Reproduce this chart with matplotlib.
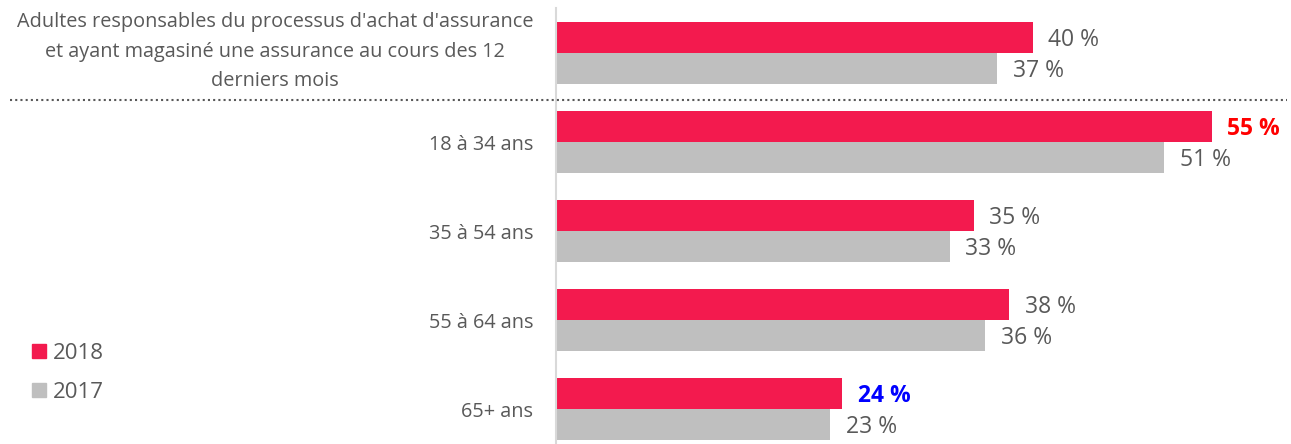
import matplotlib
matplotlib.use("Agg")
import matplotlib.pyplot as plt
from matplotlib.lines import Line2D
from matplotlib.patches import Patch

categories = [
    "Adultes responsables du processus d'achat d'assurance\net ayant magasiné une assurance au cours des 12\nderniers mois",
    "18 à 34 ans",
    "35 à 54 ans",
    "55 à 64 ans",
    "65+ ans",
]
values_2018 = [40, 55, 35, 38, 24]
values_2017 = [37, 51, 33, 36, 23]
series_labels = ["2018", "2017"]

RED = "#F31A4E"
GREY = "#BFBFBF"
TEXT = "#595959"
plt.rcParams['font.family'] = ['Open Sans', 'DejaVu Sans']

W, H = 1291, 444
fig = plt.figure(figsize=(W / 100, H / 100), dpi=100)
ax_left = 556 / W
ax_top = 1 - 8 / H
ax = fig.add_axes([ax_left, 0, 1 - ax_left, ax_top])

y = list(range(len(categories)))
h = 0.35
ax.barh([v - h / 2 for v in y], values_2018, height=h, color=RED)
ax.barh([v + h / 2 for v in y], values_2017, height=h, color=GREY)

px_per_unit = 89.0
ax.set_ylim(-0.506 + (H - 8) / px_per_unit, -0.506)
ax.set_xlim(0, (W - 556) / 11.93)

ax.set_yticks(y)
ax.set_yticklabels([""] + categories[1:], fontsize=14.3, color=TEXT)
ax.tick_params(axis='y', length=0, pad=16.5)
ax.annotate(categories[0], (0, y[0]), xytext=(-16.5, 0.8), textcoords='offset points',
            ha='right', va='center', multialignment='center', linespacing=1.63,
            fontsize=14.3, color=TEXT, annotation_clip=False)
ax.set_xticks([])
for s in ['top', 'right', 'bottom']:
    ax.spines[s].set_visible(False)
ax.spines['left'].set_color('#D9D9D9')
ax.spines['left'].set_linewidth(1.5)

highlight = {(0, 1): ('#FF0000', 'bold'), (0, 4): ('#0000FF', 'bold')}
for si, vals in enumerate([values_2018, values_2017]):
    for i, v in enumerate(vals):
        yy = i - h / 2 if si == 0 else i + h / 2
        col, wt = highlight.get((si, i), (TEXT, 'normal'))
        ax.annotate(f"{v} %", (v, yy), xytext=(11, -1.5), textcoords='offset points',
                    va='center', ha='left', fontsize=16.5, color=col, fontweight=wt)

ydot = 1 - 100 / H
fig.add_artist(Line2D([10 / W, 1287 / W], [ydot, ydot], color='#595959',
                      linestyle=(0, (1, 1.5)), linewidth=1.5))

handles = [Patch(color=RED), Patch(color=GREY)]
fig.legend(handles, series_labels, loc='upper left', bbox_to_anchor=(32 / W, 1 - 343 / H),
           frameon=False, fontsize=16, labelcolor=TEXT, handlelength=0.62, handleheight=0.62,
           handletextpad=0.3, labelspacing=0.8, borderaxespad=0, borderpad=0)

fig.savefig("out.png", dpi=100)
